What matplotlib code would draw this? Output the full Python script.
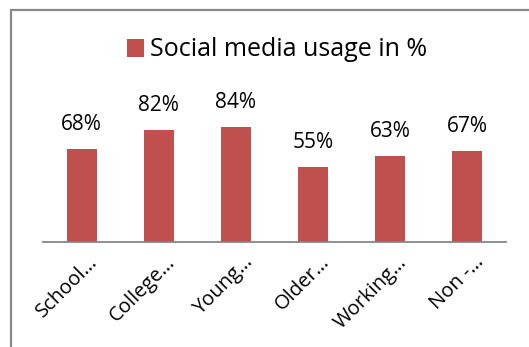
import matplotlib
matplotlib.use("Agg")
import matplotlib.pyplot as plt
from matplotlib.patches import Rectangle
from matplotlib.transforms import ScaledTranslation

plt.rcParams['font.family'] = ['Open Sans', 'DejaVu Sans']

groups = ['School…', 'College…', 'Young…', 'Older…', 'Working…', 'Non -…']
usage = [68, 82, 84, 55, 63, 67]
series_name = 'Social media usage in %'

bar_color = '#C0504D'
axis_gray = '#868686'

W, H = 529, 347
fig = plt.figure(figsize=(W / 100, H / 100), dpi=100)

# outer chart frame (runs off the right and bottom edges)
fig.patches.append(Rectangle((10.5 / W, -0.1), 1.2, (H - 9.5) / H + 0.1,
                             transform=fig.transFigure, fill=False,
                             edgecolor='#898989', linewidth=1.6))

ax = fig.add_axes([43 / W, (H - 242) / H, 463 / W, 136.5 / H])
x = range(len(groups))
bars = ax.bar(x, usage, width=0.39, color=bar_color, label=series_name)
ax.set_xlim(-0.5, len(groups) - 0.5)
ax.set_ylim(0, 100)

for b, v in zip(bars, usage):
    ax.annotate(f'{v}%', (b.get_x() + b.get_width() / 2, v),
                xytext=(0, 10), textcoords='offset points',
                ha='center', va='bottom', fontsize=15, annotation_clip=False)

for side in ['left', 'right', 'top']:
    ax.spines[side].set_visible(False)
ax.spines['bottom'].set_color(axis_gray)
ax.spines['bottom'].set_linewidth(1.3)
ax.set_yticks([])
ax.set_xticks(list(x))
ax.set_xticklabels(groups, rotation=45, ha='right', va='baseline',
                   rotation_mode='anchor', fontsize=14.5)
ax.tick_params(axis='x', length=0, pad=0)

# rotated labels end just right of each bar, below the axis line
shift = ScaledTranslation(17 / 100, -21 / 100, fig.dpi_scale_trans)
for lbl in ax.get_xticklabels():
    lbl.set_transform(lbl.get_transform() + shift)

ax.legend(loc='center', bbox_to_anchor=(277 / W, (H - 50) / H),
          bbox_transform=fig.transFigure, frameon=False, fontsize=18,
          handlelength=0.7, handleheight=0.7, handletextpad=0.25)

fig.savefig('out.png', dpi=100)
